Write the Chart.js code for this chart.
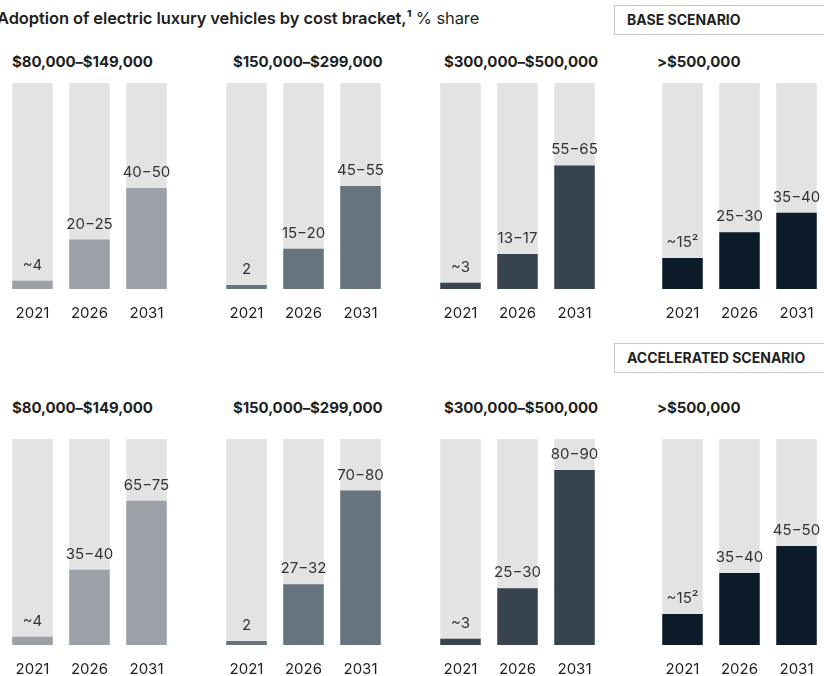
<!DOCTYPE html>
<html>
<head>
<meta charset="utf-8">
<script src="https://cdn.jsdelivr.net/npm/chart.js@4.4.1/dist/chart.umd.min.js"></script>
<style>
  html, body { margin: 0; padding: 0; background: #fff; }
  body { width: 824px; height: 676px; position: relative; overflow: hidden; font-family: Inter, "Liberation Sans", sans-serif; color: #1f1f1f; }
  .title { position: absolute; left: -3px; top: 8px; font-size: 16.5px; font-weight: 600; white-space: nowrap; letter-spacing: -0.1px; }
  .title .unit { font-weight: 400; }
  .scenario { position: absolute; left: 614px; width: 230px; height: 30px; border: 1px solid #c9c9c9; box-sizing: border-box; font-size: 14px; font-weight: 700; line-height: 28px; padding-left: 12px; white-space: nowrap; }
  .bracket { position: absolute; font-size: 15px; font-weight: 700; white-space: nowrap; letter-spacing: -0.1px; }
  canvas { position: absolute; }
</style>
</head>
<body>
<div class="title">Adoption of electric luxury vehicles by cost bracket,¹ <span class="unit">% share</span></div>
<div class="scenario" style="top:5px">BASE SCENARIO</div>
<div class="scenario" style="top:343px">ACCELERATED SCENARIO</div>
<div id="charts"></div>
<script>
const years = ['2021', '2026', '2031'];
const brackets = ['$80,000–$149,000', '$150,000–$299,000', '$300,000–$500,000', '>$500,000'];
const bracketColors = ['#9ba1a7', '#67747d', '#37434f', '#0c1b29'];

// base scenario, % share per bracket (2021, 2026, 2031)
const baseShare = [[4, 24, 49], [2, 19.5, 50], [3, 17, 60], [15, 27.5, 37]];
const baseLabels = [['~4', '20−25', '40−50'], ['2', '15−20', '45−55'], ['~3', '13−17', '55−65'], ['~15²', '25−30', '35−40']];

// accelerated scenario
const accelShare = [[4, 36.5, 70], [2, 29.5, 75], [3, 27.5, 85], [15, 35, 48]];
const accelLabels = [['~4', '35−40', '65−75'], ['2', '27−32', '70−80'], ['~3', '25−30', '80−90'], ['~15²', '35−40', '45−50']];

const panelLeft = [3.5, 218, 432, 654];
const titleLeft = [12, 233, 444, 657];
const rows = [
  { top: 83, titleTop: 52, share: baseShare, labels: baseLabels },
  { top: 439, titleTop: 398, share: accelShare, labels: accelLabels }
];

// writes the range text above each coloured bar
const valueLabels = {
  id: 'valueLabels',
  afterDatasetsDraw(chart) {
    const ds = chart.data.datasets[0];
    const meta = chart.getDatasetMeta(0);
    const ctx = chart.ctx;
    ctx.save();
    ctx.font = '15px Inter, "Liberation Sans", sans-serif';
    ctx.fillStyle = '#333';
    ctx.textAlign = 'center';
    ctx.textBaseline = 'bottom';
    meta.data.forEach((bar, i) => ctx.fillText(ds.valueLabels[i], bar.x, bar.y - 8));
    ctx.restore();
  }
};

const holder = document.getElementById('charts');
rows.forEach((row) => {
  brackets.forEach((name, b) => {
    const t = document.createElement('div');
    t.className = 'bracket';
    t.style.left = titleLeft[b] + 'px';
    t.style.top = row.titleTop + 'px';
    t.textContent = name;
    document.body.appendChild(t);

    const cv = document.createElement('canvas');
    cv.width = 171;
    cv.height = 254;
    cv.style.left = panelLeft[b] + 'px';
    cv.style.top = row.top + 'px';
    holder.appendChild(cv);

    new Chart(cv, {
      type: 'bar',
      data: {
        labels: years,
        datasets: [
          { data: row.share[b], valueLabels: row.labels[b], backgroundColor: bracketColors[b], grouped: false, order: 0, barPercentage: 0.71, categoryPercentage: 1 },
          { data: years.map(() => 100), backgroundColor: '#e3e3e3', grouped: false, order: 1, barPercentage: 0.71, categoryPercentage: 1 }
        ]
      },
      options: {
        responsive: false,
        animation: false,
        events: [],
        layout: { padding: 0 },
        plugins: { legend: { display: false }, tooltip: { enabled: false } },
        scales: {
          x: {
            grid: { display: false, drawTicks: false },
            border: { display: false },
            ticks: { color: '#1f1f1f', font: { family: 'Inter', size: 15 }, padding: 15 },
            // keep the bars spread over the full canvas width
            afterFit(scale) { scale.paddingLeft = 0; scale.paddingRight = 0; }
          },
          y: { display: false, min: 0, max: 100 }
        }
      },
      plugins: [valueLabels]
    });
  });
});
</script>
</body>
</html>
